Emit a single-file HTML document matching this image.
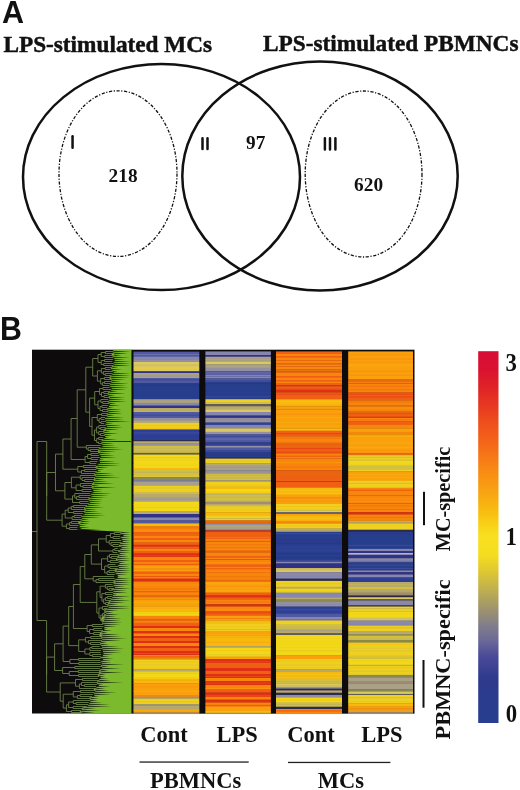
<!DOCTYPE html>
<html><head><meta charset="utf-8"><style>
html,body{margin:0;padding:0;background:#fff;}
body{width:520px;height:790px;overflow:hidden;position:relative;}
svg{position:absolute;left:0;top:0;will-change:transform;filter:blur(0.3px);}
.t{font-family:"Liberation Serif",serif;font-weight:bold;fill:#111;}
.h{stroke:#111;stroke-width:0.45px;}
.s{font-family:"Liberation Sans",sans-serif;font-weight:bold;fill:#111;}
</style></head><body>
<svg width="520" height="790" viewBox="0 0 520 790">
<text class="s" x="1.9" y="22.9" font-size="30.5">A</text>
<text class="t h" x="3.4" y="51.9" font-size="23.5" textLength="208.8" lengthAdjust="spacingAndGlyphs">LPS-stimulated MCs</text>
<text class="t h" x="263" y="51.2" font-size="23.5" textLength="255.5" lengthAdjust="spacingAndGlyphs">LPS-stimulated PBMNCs</text>
<g fill="none" stroke="#111">
<ellipse cx="161.5" cy="177" rx="138.5" ry="113" stroke-width="2.5"/>
<ellipse cx="320" cy="176" rx="137.7" ry="114.5" stroke-width="2.5"/>
<ellipse cx="118" cy="173.6" rx="59" ry="82.8" stroke-width="1.3" stroke-dasharray="3.2 1.6 1.2 1.6"/>
<ellipse cx="363.6" cy="174" rx="58.4" ry="83" stroke-width="1.3" stroke-dasharray="3.2 1.6 1.2 1.6"/>
</g>
<g stroke="#111" stroke-width="2.5" stroke-linecap="round">
<path d="M72.55 136.3V147.8"/>
<path d="M202.5 138.2V148.9M207.5 138.2V148.9"/>
<path d="M324.9 138.3V149.6M330 138.3V149.6M335.4 138.3V149.6"/>
</g>
<text class="t" x="108.6" y="181.5" font-size="19.3">218</text>
<text class="t" x="246" y="148.6" font-size="19.3">97</text>
<text class="t" x="354.1" y="191.1" font-size="19.3">620</text>
<text class="s" transform="translate(-0.1,339.6) scale(1,1.09)" font-size="30.3">B</text>
<rect x="32" y="349.7" width="99.5" height="363.8" fill="#0d0b0b"/>
<polygon points="131.5,349.7 112.6,349.7 114.3,351.7 111.2,353.7 112.4,355.7 113.0,357.7 115.3,359.7 113.6,361.7 114.5,363.7 112.3,365.7 110.9,367.7 110.8,369.7 114.1,371.7 112.7,373.7 110.5,375.7 108.8,377.7 111.0,379.7 111.7,381.7 110.2,383.7 109.2,385.7 111.1,387.7 112.2,389.7 108.5,391.7 107.3,393.7 108.6,395.7 108.8,397.7 109.9,399.7 107.2,401.7 109.9,403.7 109.3,405.7 107.9,407.7 106.1,409.7 109.6,411.7 106.0,413.7 108.2,415.7 105.0,417.7 104.7,419.7 107.1,421.7 104.6,423.7 107.7,425.7 105.2,427.7 103.5,429.7 103.3,431.7 103.8,433.7 104.7,435.7 105.7,437.7 101.3,439.7 102.0,441.7 100.6,443.7 103.9,445.7 99.2,447.7 98.2,449.7 97.7,451.7 98.8,453.7 100.9,455.7 100.4,457.7 99.2,459.7 100.1,461.7 99.4,463.7 96.0,465.7 94.9,467.7 98.2,469.7 97.0,471.7 93.1,473.7 96.0,475.7 94.2,477.7 93.9,479.7 93.4,481.7 92.3,483.7 91.2,485.7 92.2,487.7 92.3,489.7 94.6,491.7 89.6,493.7 93.0,495.7 88.5,497.7 88.4,499.7 89.9,501.7 89.1,503.7 86.4,505.7 83.7,507.7 85.0,509.7 83.7,511.7 85.6,513.7 81.2,515.7 81.2,517.7 83.0,519.7 77.9,521.7 79.0,523.7 80.1,525.7 79.1,527.7 83.9,529.7 120.4,531.7 120.2,533.7 124.0,535.7 120.3,537.7 122.3,539.7 122.7,541.7 119.5,543.7 118.8,545.7 121.9,547.7 120.0,549.7 117.9,551.7 119.9,553.7 117.7,555.7 117.2,557.7 115.6,559.7 119.0,561.7 119.5,563.7 117.8,565.7 119.1,567.7 114.2,569.7 114.9,571.7 115.8,573.7 117.9,575.7 117.6,577.7 114.5,579.7 113.3,581.7 113.7,583.7 113.5,585.7 115.2,587.7 111.0,589.7 113.6,591.7 112.8,593.7 112.7,595.7 111.9,597.7 110.6,599.7 108.5,601.7 107.8,603.7 107.3,605.7 108.7,607.7 104.5,609.7 104.4,611.7 106.5,613.7 103.2,615.7 101.6,617.7 100.8,619.7 103.1,621.7 101.8,623.7 104.8,625.7 104.1,627.7 104.5,629.7 100.7,631.7 99.6,633.7 99.4,635.7 101.2,637.7 102.1,639.7 100.8,641.7 99.9,643.7 101.0,645.7 102.1,647.7 102.5,649.7 103.0,651.7 103.6,653.7 102.8,655.7 99.9,657.7 103.4,659.7 100.5,661.7 101.8,663.7 100.7,665.7 102.3,667.7 99.5,669.7 99.3,671.7 98.7,673.7 97.7,675.7 100.9,677.7 98.8,679.7 97.0,681.7 96.8,683.7 99.1,685.7 95.8,687.7 93.5,689.7 95.4,691.7 93.7,693.7 94.5,695.7 89.1,697.7 90.0,699.7 90.3,701.7 89.0,703.7 87.8,705.7 82.0,707.7 81.8,709.7 79.4,711.7 84.0,713.5 131.5,713.5" fill="#7bba2c"/>
<path d="M112.6 350.70L130.5 351.50L112.6 352.30Z M113.7 352.70L127.7 353.50L113.7 354.30Z M113.5 354.70L121.5 355.50L113.5 356.30Z M112.1 356.70L129.3 357.50L112.1 358.30Z M111.9 358.70L125.1 359.50L111.9 360.30Z M111.2 360.70L130.5 361.50L111.2 362.30Z M112.7 362.70L130.5 363.50L112.7 364.30Z M112.5 364.70L130.5 365.50L112.5 366.30Z M111.4 366.70L118.3 367.50L111.4 368.30Z M109.4 368.70L122.1 369.50L109.4 370.30Z M111.9 370.70L117.9 371.50L111.9 372.30Z M111.5 372.70L130.5 373.50L111.5 374.30Z M110.5 374.70L130.5 375.50L110.5 376.30Z M110.3 376.70L129.3 377.50L110.3 378.30Z M111.1 378.70L125.1 379.50L111.1 380.30Z M110.9 380.70L120.9 381.50L110.9 382.30Z M109.5 382.70L128.7 383.50L109.5 384.30Z M108.3 384.70L126.5 385.50L108.3 386.30Z M108.5 386.70L128.3 387.50L108.5 388.30Z M110.1 388.70L126.1 389.50L110.1 390.30Z M109.1 390.70L117.9 391.50L109.1 392.30Z M107.8 392.70L125.7 393.50L107.8 394.30Z M106.7 394.70L115.5 395.50L106.7 396.30Z M108.9 396.70L125.3 397.50L108.9 398.30Z M107.1 398.70L125.1 399.50L107.1 400.30Z M107.9 400.70L126.8 401.50L107.9 402.30Z M108.5 402.70L116.5 403.50L108.5 404.30Z M107.0 404.70L120.2 405.50L107.0 406.30Z M106.1 406.70L114.0 407.50L106.1 408.30Z M107.1 408.70L121.7 409.50L107.1 410.30Z M107.3 410.70L121.3 411.50L107.3 412.30Z M106.9 412.70L123.0 413.50L106.9 414.30Z M106.8 414.70L114.8 415.50L106.8 416.30Z M104.0 416.70L124.5 417.50L104.0 418.30Z M103.3 418.70L124.2 419.50L103.3 420.30Z M105.1 420.70L130.5 421.50L105.1 422.30Z M103.2 422.70L113.7 423.50L103.2 424.30Z M104.9 424.70L121.5 425.50L104.9 426.30Z M104.5 426.70L123.3 427.50L104.5 428.30Z M105.1 428.70L119.1 429.50L105.1 430.30Z M103.5 430.70L110.8 431.50L103.5 432.30Z M102.9 432.70L118.4 433.50L102.9 434.30Z M104.0 434.70L112.0 435.50L104.0 436.30Z M102.2 436.70L109.6 437.50L102.2 438.30Z M102.3 438.70L117.2 439.50L102.3 440.30Z M99.8 440.70L112.7 441.50L99.8 442.30Z M101.3 442.70L114.2 443.50L101.3 444.30Z M99.7 444.70L115.7 445.50L99.7 446.30Z M99.4 446.70L119.1 447.50L99.4 448.30Z M97.8 448.70L123.6 449.50L97.8 450.30Z M99.6 450.70L116.1 451.50L99.6 452.30Z M97.2 452.70L111.5 453.50L97.2 454.30Z M97.9 454.70L115.0 455.50L97.9 456.30Z M98.6 456.70L116.6 457.50L98.6 458.30Z M97.0 458.70L104.2 459.50L97.0 460.30Z M96.3 460.70L115.8 461.50L96.3 462.30Z M95.2 462.70L120.4 463.50L95.2 464.30Z M94.8 464.70L120.0 465.50L94.8 466.30Z M96.6 466.70L108.6 467.50L96.6 468.30Z M95.3 468.70L104.2 469.50L95.3 470.30Z M95.8 470.70L101.8 471.50L95.8 472.30Z M94.1 472.70L113.5 473.50L94.1 474.30Z M95.2 474.70L115.2 475.50L95.2 476.30Z M94.0 476.70L121.0 477.50L94.0 478.30Z M94.7 478.70L104.7 479.50L94.7 480.30Z M91.7 480.70L108.3 481.50L91.7 482.30Z M93.5 482.70L114.0 483.50L93.5 484.30Z M91.2 484.70L99.8 485.50L91.2 486.30Z M92.7 486.70L116.5 487.50L92.7 488.30Z M90.4 488.70L103.2 489.50L90.4 490.30Z M90.7 490.70L102.6 491.50L90.7 492.30Z M88.8 492.70L111.8 493.50L88.8 494.30Z M89.6 494.70L109.0 495.50L89.6 496.30Z M88.8 496.70L106.2 497.50L88.8 498.30Z M88.5 498.70L103.4 499.50L88.5 500.30Z M87.4 500.70L102.6 501.50L87.4 502.30Z M87.8 502.70L101.8 503.50L87.8 504.30Z M86.0 504.70L101.0 505.50L86.0 506.30Z M84.1 506.70L104.2 507.50L84.1 508.30Z M85.1 508.70L97.4 509.50L85.1 510.30Z M84.6 510.70L98.6 511.50L84.6 512.30Z M81.8 512.70L103.8 513.50L81.8 514.30Z M80.7 514.70L106.0 515.50L80.7 516.30Z M79.7 516.70L100.2 517.50L79.7 518.30Z M81.3 518.70L89.3 519.50L81.3 520.30Z M80.5 520.70L90.5 521.50L80.5 522.30Z M79.7 522.70L89.7 523.50L79.7 524.30Z M77.4 524.70L86.9 525.50L77.4 526.30Z M76.3 526.70L90.0 527.50L76.3 528.30Z M76.1 528.70L100.2 529.50L76.1 530.30Z M120.2 531.70L130.5 532.50L120.2 533.30Z M119.5 533.70L130.5 534.50L119.5 535.30Z M119.1 535.70L130.5 536.50L119.1 537.30Z M119.1 537.70L130.5 538.50L119.1 539.30Z M120.3 539.70L130.5 540.50L120.3 541.30Z M120.6 541.70L130.5 542.50L120.6 543.30Z M117.6 543.70L130.5 544.50L117.6 545.30Z M119.9 545.70L129.9 546.50L119.9 547.30Z M116.7 547.70L130.5 548.50L116.7 549.30Z M119.3 549.70L130.5 550.50L119.3 551.30Z M116.3 551.70L130.5 552.50L116.3 553.30Z M117.7 553.70L126.8 554.50L117.7 555.30Z M118.3 555.70L128.5 556.50L118.3 557.30Z M116.4 557.70L130.5 558.50L116.4 559.30Z M117.2 559.70L130.5 560.50L117.2 561.30Z M117.7 561.70L125.7 562.50L117.7 563.30Z M114.5 563.70L130.5 564.50L114.5 565.30Z M117.1 565.70L129.1 566.50L117.1 567.30Z M116.7 567.70L130.5 568.50L116.7 569.30Z M115.8 569.70L130.5 570.50L115.8 571.30Z M113.6 571.70L130.5 572.50L113.6 573.30Z M113.6 573.70L127.9 574.50L113.6 575.30Z M112.9 575.70L121.6 576.50L112.9 577.30Z M113.5 577.70L130.5 578.50L113.5 579.30Z M114.3 579.70L130.5 580.50L114.3 581.30Z M114.5 581.70L130.5 582.50L114.5 583.30Z M111.5 583.70L130.5 584.50L111.5 585.30Z M112.3 585.70L125.5 586.50L112.3 587.30Z M113.0 587.70L130.5 588.50L113.0 589.30Z M111.4 589.70L126.5 590.50L111.4 591.30Z M112.0 591.70L128.0 592.50L112.0 593.30Z M111.3 593.70L117.5 594.50L111.3 595.30Z M111.0 595.70L130.5 596.50L111.0 597.30Z M110.5 597.70L124.5 598.50L110.5 599.30Z M110.0 599.70L130.5 600.50L110.0 601.30Z M109.3 601.70L125.3 602.50L109.3 603.30Z M107.7 603.70L118.6 604.50L107.7 605.30Z M106.9 605.70L130.5 606.50L106.9 607.30Z M106.2 607.70L130.2 608.50L106.2 609.30Z M104.7 609.70L118.5 610.50L104.7 611.30Z M105.4 611.70L113.8 612.50L105.4 613.30Z M105.1 613.70L119.1 614.50L105.1 615.30Z M104.4 615.70L116.4 616.50L104.4 617.30Z M103.8 617.70L121.7 618.50L103.8 619.30Z M103.8 619.70L121.0 620.50L103.8 621.30Z M102.3 621.70L122.8 622.50L102.3 623.30Z M101.8 623.70L120.6 624.50L101.8 625.30Z M102.4 625.70L116.4 626.50L102.4 627.30Z M101.0 627.70L108.2 628.50L101.0 629.30Z M102.0 629.70L112.0 630.50L102.0 631.30Z M101.4 631.70L107.8 632.50L101.4 633.30Z M101.6 633.70L119.6 634.50L101.6 635.30Z M101.3 635.70L121.4 636.50L101.3 637.30Z M101.2 637.70L127.2 638.50L101.2 639.30Z M101.0 639.70L121.0 640.50L101.0 641.30Z M99.8 641.70L107.1 642.50L99.8 643.30Z M100.1 643.70L109.3 644.50L100.1 645.30Z M98.5 645.70L119.4 646.50L98.5 647.30Z M101.5 647.70L124.5 648.50L101.5 649.30Z M99.8 649.70L121.7 650.50L99.8 651.30Z M99.5 651.70L121.8 652.50L99.5 653.30Z M100.0 653.70L113.9 654.50L100.0 655.30Z M99.7 655.70L109.9 656.50L99.7 657.30Z M99.6 657.70L113.8 658.50L99.6 659.30Z M99.4 659.70L111.7 660.50L99.4 661.30Z M99.8 661.70L111.5 662.50L99.8 663.30Z M99.6 663.70L124.4 664.50L99.6 665.30Z M101.3 665.70L109.3 666.50L101.3 667.30Z M98.8 667.70L121.1 668.50L98.8 669.30Z M100.0 669.70L109.0 670.50L100.0 671.30Z M100.5 671.70L123.5 672.50L100.5 673.30Z M98.9 673.70L105.9 674.50L98.9 675.30Z M98.3 675.70L105.4 676.50L98.3 677.30Z M96.9 677.70L108.9 678.50L96.9 679.30Z M98.3 679.70L110.3 680.50L98.3 681.30Z M96.9 681.70L123.8 682.50L96.9 683.30Z M95.8 683.70L103.3 684.50L95.8 685.30Z M95.0 685.70L110.5 686.50L95.0 687.30Z M95.6 687.70L105.6 688.50L95.6 689.30Z M94.7 689.70L108.7 690.50L94.7 691.30Z M93.7 691.70L116.7 692.50L93.7 693.30Z M91.7 693.70L110.8 694.50L91.7 695.30Z M91.0 695.70L99.9 696.50L91.0 697.30Z M90.1 697.70L98.9 698.50L90.1 699.30Z M89.2 699.70L98.0 700.50L89.2 701.30Z M87.7 701.70L102.5 702.50L87.7 703.30Z M87.0 703.70L110.0 704.50L87.0 705.30Z M85.6 705.70L111.6 706.50L85.6 707.30Z M82.7 707.70L96.1 708.50L82.7 709.30Z M79.8 709.70L100.6 710.50L79.8 711.30Z M81.1 711.70L95.1 712.50L81.1 713.30Z" fill="#1c2a12" opacity="0.9"/>
<path d="M105.4 351.5V353.5 M101.2 352.5H105.4 M104.7 355.5V357.5 M101.2 356.5H104.7 M101.2 352.5V356.5 M98.0 354.5H101.2 M104.5 359.5V361.5 M101.2 360.5H104.5 M103.7 363.5V365.5 M101.2 364.5H103.7 M101.2 360.5V364.5 M98.0 362.5H101.2 M98.0 354.5V362.5 M92.7 358.5H98.0 M105.1 367.5V369.5 M101.4 368.5H105.1 M105.2 373.5V375.5 M103.4 374.5H105.2 M103.4 371.5V374.5 M101.4 373.0H103.4 M101.4 368.5V373.0 M97.4 370.8H101.4 M104.4 377.5V379.5 M100.7 378.5H104.4 M104.4 381.5V383.5 M102.6 382.5H104.4 M102.6 382.5V385.5 M100.7 384.0H102.6 M100.7 378.5V384.0 M97.4 381.2H100.7 M97.4 370.8V381.2 M92.7 376.0H97.4 M92.7 358.5V376.0 M85.8 367.2H92.7 M102.9 387.5V389.5 M99.6 388.5H102.9 M103.8 391.5V393.5 M101.5 392.5H103.8 M104.0 395.5V397.5 M101.5 396.5H104.0 M101.5 392.5V396.5 M99.6 394.5H101.5 M99.6 388.5V394.5 M94.7 391.5H99.6 M102.7 401.5V403.5 M100.9 402.5H102.7 M100.9 399.5V402.5 M98.0 401.0H100.9 M101.8 405.5V407.5 M100.0 406.5H101.8 M102.5 409.5V411.5 M100.0 410.5H102.5 M100.0 406.5V410.5 M98.0 408.5H100.0 M98.0 401.0V408.5 M94.7 404.8H98.0 M94.7 391.5V404.8 M89.6 398.1H94.7 M101.5 413.5V415.5 M97.3 414.5H101.5 M100.9 417.5V419.5 M99.1 418.5H100.9 M101.0 421.5V423.5 M99.1 422.5H101.0 M99.1 418.5V422.5 M97.3 420.5H99.1 M97.3 414.5V420.5 M92.0 417.5H97.3 M100.6 427.5V429.5 M98.8 428.5H100.6 M98.8 425.5V428.5 M96.6 427.0H98.8 M100.5 433.5V435.5 M98.7 434.5H100.5 M98.7 431.5V434.5 M96.6 433.0H98.7 M96.6 427.0V433.0 M94.5 430.0H96.6 M98.6 437.5V439.5 M96.7 438.5H98.6 M98.5 441.5V443.5 M96.7 442.5H98.5 M96.7 438.5V442.5 M94.5 440.5H96.7 M94.5 430.0V440.5 M92.0 435.2H94.5 M92.0 417.5V435.2 M89.6 426.4H92.0 M89.6 398.1V426.4 M85.8 412.2H89.6 M85.8 367.2V412.2 M90.3 449.5V451.5 M88.2 450.5H90.3 M88.2 447.5V450.5 M86.3 449.0H88.2 M86.3 445.5V449.0 M77.2 389.8H85.8 M77.2 447.2H86.3 M77.2 389.8V447.2 M90.9 453.5V455.5 M87.6 454.5H90.9 M91.1 457.5V459.5 M87.6 458.5H91.1 M87.6 454.5V458.5 M85.1 456.5H87.6 M89.8 461.5V463.5 M85.1 462.5H89.8 M85.1 456.5V462.5 M71.1 418.5H77.2 M71.1 459.5H85.1 M71.1 418.5V459.5 M83.3 465.5V467.5 M77.8 466.5H83.3 M84.6 469.5V471.5 M81.5 470.5H84.6 M81.5 470.5V473.5 M77.8 472.0H81.5 M77.8 466.5V472.0 M62.9 439.0H71.1 M62.9 469.2H77.8 M62.9 439.0V469.2 M84.6 479.5V481.5 M82.0 480.5H84.6 M82.0 477.5V480.5 M80.2 479.0H82.0 M80.2 475.5V479.0 M71.4 477.2H80.2 M82.9 485.5V487.5 M80.4 486.5H82.9 M80.4 483.5V486.5 M76.1 485.0H80.4 M82.0 489.5V491.5 M76.1 490.5H82.0 M76.1 485.0V490.5 M71.4 487.8H76.1 M71.4 477.2V487.8 M64.9 482.5H71.4 M78.9 495.5V497.5 M76.6 496.5H78.9 M76.6 496.5V499.5 M74.8 498.0H76.6 M74.8 493.5V498.0 M72.5 495.8H74.8 M79.7 501.5V503.5 M72.5 502.5H79.7 M72.5 495.8V502.5 M64.9 499.1H72.5 M64.9 482.5V499.1 M55.5 454.1H62.9 M55.5 490.8H64.9 M55.5 454.1V490.8 M73.3 505.5V507.5 M71.3 506.5H73.3 M71.3 506.5V509.5 M68.2 508.0H71.3 M73.6 511.5V513.5 M68.2 512.5H73.6 M68.2 508.0V512.5 M65.2 510.2H68.2 M74.1 515.5V517.5 M72.1 516.5H74.1 M72.1 516.5V519.5 M65.2 518.0H72.1 M65.2 510.2V518.0 M62.1 514.1H65.2 M71.4 521.5V523.5 M69.6 522.5H71.4 M69.6 522.5V525.5 M66.4 524.0H69.6 M69.4 527.5V529.5 M66.4 528.5H69.4 M66.4 524.0V528.5 M62.1 526.2H66.4 M62.1 514.1V526.2 M46.7 472.5H55.5 M46.7 520.2H62.1 M46.7 472.5V520.2 M114.3 532.5V534.5 M110.4 533.5H114.3 M113.0 536.5V538.5 M110.4 537.5H113.0 M110.4 533.5V537.5 M106.2 535.5H110.4 M112.8 544.5V546.5 M111.0 545.5H112.8 M111.0 542.5V545.5 M109.2 544.0H111.0 M109.2 540.5V544.0 M106.2 542.2H109.2 M106.2 535.5V542.2 M114.7 548.5V550.5 M112.9 549.5H114.7 M112.9 549.5V552.5 M98.5 538.9H106.2 M98.5 551.0H112.9 M98.5 538.9V551.0 M111.3 556.5V558.5 M109.5 557.5H111.3 M109.5 554.5V557.5 M107.6 556.0H109.5 M110.2 560.5V562.5 M107.6 561.5H110.2 M107.6 556.0V561.5 M101.5 558.8H107.6 M109.8 566.5V568.5 M108.0 567.5H109.8 M108.0 564.5V567.5 M104.7 566.0H108.0 M108.9 570.5V572.5 M107.1 571.5H108.9 M107.1 571.5V574.5 M104.7 573.0H107.1 M104.7 566.0V573.0 M101.5 569.5H104.7 M101.5 558.8V569.5 M91.3 544.9H98.5 M91.3 564.1H101.5 M91.3 544.9V564.1 M98.6 578.5V580.5 M96.0 579.5H98.6 M96.0 579.5V582.5 M93.2 581.0H96.0 M93.2 576.5V581.0 M84.8 554.5H91.3 M84.8 578.8H93.2 M84.8 554.5V578.8 M109.0 588.5V590.5 M107.2 589.5H109.0 M107.2 586.5V589.5 M105.4 588.0H107.2 M105.4 584.5V588.0 M100.1 586.2H105.4 M105.3 592.5V594.5 M101.9 593.5H105.3 M107.3 596.5V598.5 M105.5 597.5H107.3 M105.5 597.5V600.5 M103.7 599.0H105.5 M105.5 602.5V604.5 M103.7 603.5H105.5 M103.7 599.0V603.5 M101.9 601.2H103.7 M101.9 593.5V601.2 M100.1 597.4H101.9 M100.1 586.2V597.4 M96.8 591.8H100.1 M104.2 608.5V610.5 M102.4 609.5H104.2 M102.4 606.5V609.5 M99.0 608.0H102.4 M104.1 612.5V614.5 M102.6 613.5H104.1 M102.6 613.5V616.5 M100.8 615.0H102.6 M103.8 618.5V620.5 M102.3 619.5H103.8 M102.3 619.5V622.5 M100.8 621.0H102.3 M100.8 615.0V621.0 M99.0 618.0H100.8 M99.0 608.0V618.0 M96.8 613.0H99.0 M96.8 591.8V613.0 M80.2 566.6H84.8 M80.2 602.4H96.8 M80.2 566.6V602.4 M92.3 624.5V626.5 M87.1 625.5H92.3 M93.7 628.5V630.5 M89.6 629.5H93.7 M93.6 632.5V634.5 M89.6 633.5H93.6 M89.6 629.5V633.5 M87.1 631.5H89.6 M87.1 625.5V631.5 M73.4 584.5H80.2 M73.4 628.5H87.1 M73.4 584.5V628.5 M90.8 636.5V638.5 M85.4 637.5H90.8 M90.5 642.5V644.5 M88.5 643.5H90.5 M88.5 640.5V643.5 M85.4 642.0H88.5 M85.4 637.5V642.0 M78.7 639.8H85.4 M91.8 646.5V648.5 M89.9 647.5H91.8 M89.9 647.5V650.5 M84.9 649.0H89.9 M92.3 654.5V656.5 M89.8 655.5H92.3 M89.8 652.5V655.5 M84.9 654.0H89.8 M84.9 649.0V654.0 M78.7 651.5H84.9 M78.7 639.8V651.5 M68.7 606.5H73.4 M68.7 645.6H78.7 M68.7 606.5V645.6 M78.6 658.5V660.5 M69.9 659.5H78.6 M78.8 662.5V664.5 M69.9 663.5H78.8 M69.9 659.5V663.5 M63.1 626.1H68.7 M63.1 661.5H69.9 M63.1 626.1V661.5 M74.8 666.5V668.5 M62.6 667.5H74.8 M78.2 670.5V672.5 M69.2 671.5H78.2 M78.6 674.5V676.5 M69.2 675.5H78.6 M69.2 671.5V675.5 M62.6 673.5H69.2 M62.6 667.5V673.5 M54.6 643.8H63.1 M54.6 670.5H62.6 M54.6 643.8V670.5 M82.4 678.5V680.5 M75.5 679.5H82.4 M84.4 684.5V686.5 M81.5 685.5H84.4 M81.5 682.5V685.5 M79.4 684.0H81.5 M79.4 684.0V688.5 M75.5 686.2H79.4 M75.5 679.5V686.2 M60.2 682.9H75.5 M80.5 690.5V692.5 M73.3 691.5H80.5 M80.1 694.5V696.5 M77.4 695.5H80.1 M77.4 695.5V698.5 M73.3 697.0H77.4 M73.3 691.5V697.0 M63.2 694.2H73.3 M76.1 702.5V704.5 M73.3 703.5H76.1 M73.3 700.5V703.5 M68.6 702.0H73.3 M73.1 706.5V708.5 M68.6 707.5H73.1 M68.6 702.0V707.5 M66.4 704.8H68.6 M71.5 710.5V712.5 M66.4 711.5H71.5 M66.4 704.8V711.5 M63.2 708.1H66.4 M63.2 694.2V708.1 M60.2 701.2H63.2 M60.2 682.9V701.2 M46.6 657.1H54.6 M46.6 692.0H60.2 M46.6 657.1V692.0 M37 441.5V620.5M37 441.5H46.7V496.3M37 620.5H46.6V674.6M32 531.5H37 M105.4 351.5H113.6 M105.4 353.5H114.7 M104.7 355.5H114.5 M104.7 357.5H113.1 M104.5 359.5H112.9 M104.5 361.5H112.2 M103.7 363.5H113.7 M103.7 365.5H113.5 M105.1 367.5H112.4 M105.1 369.5H110.4 M103.4 371.5H112.9 M105.2 373.5H112.5 M105.2 375.5H111.5 M104.4 377.5H111.3 M104.4 379.5H112.1 M104.4 381.5H111.9 M104.4 383.5H110.5 M102.6 385.5H109.3 M102.9 387.5H109.5 M102.9 389.5H111.1 M103.8 391.5H110.1 M103.8 393.5H108.8 M104.0 395.5H107.7 M104.0 397.5H109.9 M100.9 399.5H108.1 M102.7 401.5H108.9 M102.7 403.5H109.5 M101.8 405.5H108.0 M101.8 407.5H107.1 M102.5 409.5H108.1 M102.5 411.5H108.3 M101.5 413.5H107.9 M101.5 415.5H107.8 M100.9 417.5H105.0 M100.9 419.5H104.3 M101.0 421.5H106.1 M101.0 423.5H104.2 M98.8 425.5H105.9 M100.6 427.5H105.5 M100.6 429.5H106.1 M98.7 431.5H104.5 M100.5 433.5H103.9 M100.5 435.5H105.0 M98.6 437.5H103.2 M98.6 439.5H103.3 M98.5 441.5H100.8 M98.5 443.5H102.3 M86.3 445.5H100.7 M88.2 447.5H100.4 M90.3 449.5H98.8 M90.3 451.5H100.6 M90.9 453.5H98.2 M90.9 455.5H98.9 M91.1 457.5H99.6 M91.1 459.5H98.0 M89.8 461.5H97.3 M89.8 463.5H96.2 M83.3 465.5H95.8 M83.3 467.5H97.6 M84.6 469.5H96.3 M84.6 471.5H96.8 M81.5 473.5H95.1 M80.2 475.5H96.2 M82.0 477.5H95.0 M84.6 479.5H95.7 M84.6 481.5H92.7 M80.4 483.5H94.5 M82.9 485.5H92.2 M82.9 487.5H93.7 M82.0 489.5H91.4 M82.0 491.5H91.7 M74.8 493.5H89.8 M78.9 495.5H90.6 M78.9 497.5H89.8 M76.6 499.5H89.5 M79.7 501.5H88.4 M79.7 503.5H88.8 M73.3 505.5H87.0 M73.3 507.5H85.1 M71.3 509.5H86.1 M73.6 511.5H85.6 M73.6 513.5H82.8 M74.1 515.5H81.7 M74.1 517.5H80.7 M72.1 519.5H82.3 M71.4 521.5H81.5 M71.4 523.5H80.7 M69.6 525.5H78.4 M69.4 527.5H77.3 M69.4 529.5H77.1 M114.3 532.5H121.2 M114.3 534.5H120.5 M113.0 536.5H120.1 M113.0 538.5H120.1 M109.2 540.5H121.3 M111.0 542.5H121.6 M112.8 544.5H118.6 M112.8 546.5H120.9 M114.7 548.5H117.7 M114.7 550.5H120.3 M112.9 552.5H117.3 M109.5 554.5H118.7 M111.3 556.5H119.3 M111.3 558.5H117.4 M110.2 560.5H118.2 M110.2 562.5H118.7 M108.0 564.5H115.5 M109.8 566.5H118.1 M109.8 568.5H117.7 M108.9 570.5H116.8 M108.9 572.5H114.6 M107.1 574.5H114.6 M93.2 576.5H113.9 M98.6 578.5H114.5 M98.6 580.5H115.3 M96.0 582.5H115.5 M105.4 584.5H112.5 M107.2 586.5H113.3 M109.0 588.5H114.0 M109.0 590.5H112.4 M105.3 592.5H113.0 M105.3 594.5H112.3 M107.3 596.5H112.0 M107.3 598.5H111.5 M105.5 600.5H111.0 M105.5 602.5H110.3 M105.5 604.5H108.7 M102.4 606.5H107.9 M104.2 608.5H107.2 M104.2 610.5H105.7 M104.1 612.5H106.4 M104.1 614.5H106.1 M102.6 616.5H105.4 M103.8 618.5H104.7 M92.3 624.5H102.8 M92.3 626.5H103.4 M93.7 628.5H102.0 M93.7 630.5H103.0 M93.6 632.5H102.4 M93.6 634.5H102.6 M90.8 636.5H102.3 M90.8 638.5H102.2 M88.5 640.5H102.0 M90.5 642.5H100.8 M90.5 644.5H101.1 M91.8 646.5H99.5 M91.8 648.5H102.5 M89.9 650.5H100.8 M89.8 652.5H100.5 M92.3 654.5H101.0 M92.3 656.5H100.7 M78.6 658.5H100.6 M78.6 660.5H100.4 M78.8 662.5H100.8 M78.8 664.5H100.6 M74.8 666.5H102.3 M74.8 668.5H99.8 M78.2 670.5H101.0 M78.2 672.5H101.5 M78.6 674.5H99.9 M78.6 676.5H99.3 M82.4 678.5H97.9 M82.4 680.5H99.3 M81.5 682.5H97.9 M84.4 684.5H96.8 M84.4 686.5H96.0 M79.4 688.5H96.6 M80.5 690.5H95.7 M80.5 692.5H94.7 M80.1 694.5H92.7 M80.1 696.5H92.0 M77.4 698.5H91.1 M73.3 700.5H90.2 M76.1 702.5H88.7 M76.1 704.5H88.0 M73.1 706.5H86.6 M73.1 708.5H83.7 M71.5 710.5H80.8 M71.5 712.5H82.1" stroke="#6c8249" stroke-width="0.9" fill="none"/>
<path d="M98 441.5H131" stroke="#24331a" stroke-width="1.1"/>
<rect x="131.5" y="349.7" width="283" height="364" fill="#0d0b0b"/>
<rect x="133.5" y="351.00" width="65.80" height="1.35" fill="#2a2a3a"/>
<rect x="133.5" y="352.00" width="65.80" height="5.05" fill="#5058a2"/>
<rect x="133.5" y="353.90" width="65.80" height="1" fill="#8686b0" opacity="0.55"/>
<rect x="133.5" y="356.70" width="65.80" height="3.25" fill="#8686b0"/>
<rect x="133.5" y="359.60" width="65.80" height="2.75" fill="#9490a0"/>
<rect x="133.5" y="362.00" width="65.80" height="9.65" fill="#dcc860"/>
<rect x="133.5" y="364.71" width="65.80" height="1" fill="#b8aa6c" opacity="0.55"/>
<rect x="133.5" y="367.67" width="65.80" height="1" fill="#eed020" opacity="0.55"/>
<rect x="133.5" y="371.30" width="65.80" height="2.05" fill="#303284"/>
<rect x="133.5" y="373.00" width="65.80" height="5.35" fill="#a8a088"/>
<rect x="133.5" y="375.59" width="65.80" height="1" fill="#9490a0" opacity="0.55"/>
<rect x="133.5" y="378.00" width="65.80" height="5.35" fill="#5058a2"/>
<rect x="133.5" y="379.28" width="65.80" height="1" fill="#263e8c" opacity="0.55"/>
<rect x="133.5" y="383.00" width="65.80" height="16.55" fill="#263e8c"/>
<rect x="133.5" y="384.79" width="65.80" height="1" fill="#303284" opacity="0.55"/>
<rect x="133.5" y="388.93" width="65.80" height="1" fill="#2e4096" opacity="0.55"/>
<rect x="133.5" y="393.05" width="65.80" height="1" fill="#2e4096" opacity="0.55"/>
<rect x="133.5" y="395.59" width="65.80" height="1" fill="#2e4096" opacity="0.55"/>
<rect x="133.5" y="399.20" width="65.80" height="3.85" fill="#b8aa6c"/>
<rect x="133.5" y="400.27" width="65.80" height="1" fill="#9490a0" opacity="0.55"/>
<rect x="133.5" y="402.70" width="65.80" height="3.25" fill="#8686b0"/>
<rect x="133.5" y="405.60" width="65.80" height="2.75" fill="#303284"/>
<rect x="133.5" y="408.00" width="65.80" height="4.35" fill="#b8aa6c"/>
<rect x="133.5" y="410.56" width="65.80" height="1" fill="#d2c040" opacity="0.55"/>
<rect x="133.5" y="412.00" width="65.80" height="6.35" fill="#5058a2"/>
<rect x="133.5" y="414.68" width="65.80" height="1" fill="#263e8c" opacity="0.55"/>
<rect x="133.5" y="418.00" width="65.80" height="3.15" fill="#9490a0"/>
<rect x="133.5" y="420.80" width="65.80" height="2.55" fill="#b8aa6c"/>
<rect x="133.5" y="423.00" width="65.80" height="6.85" fill="#eed020"/>
<rect x="133.5" y="425.00" width="65.80" height="1" fill="#f8b80e" opacity="0.55"/>
<rect x="133.5" y="427.71" width="65.80" height="1" fill="#f8b80e" opacity="0.55"/>
<rect x="133.5" y="429.50" width="65.80" height="10.85" fill="#2e4096"/>
<rect x="133.5" y="432.50" width="65.80" height="1" fill="#5058a2" opacity="0.55"/>
<rect x="133.5" y="436.76" width="65.80" height="1" fill="#263e8c" opacity="0.55"/>
<rect x="133.5" y="440.00" width="65.80" height="1.55" fill="#2c2c50"/>
<rect x="133.5" y="441.20" width="65.80" height="2.65" fill="#b8aa6c"/>
<rect x="133.5" y="443.50" width="65.80" height="2.65" fill="#9490a0"/>
<rect x="133.5" y="445.80" width="65.80" height="7.35" fill="#d2c040"/>
<rect x="133.5" y="447.83" width="65.80" height="1" fill="#b8aa6c" opacity="0.55"/>
<rect x="133.5" y="450.50" width="65.80" height="1" fill="#b8aa6c" opacity="0.55"/>
<rect x="133.5" y="452.80" width="65.80" height="2.15" fill="#605c58"/>
<rect x="133.5" y="454.60" width="65.80" height="13.75" fill="#f2d816"/>
<rect x="133.5" y="457.29" width="65.80" height="1" fill="#d2c040" opacity="0.55"/>
<rect x="133.5" y="459.96" width="65.80" height="1" fill="#eed020" opacity="0.55"/>
<rect x="133.5" y="464.58" width="65.80" height="1" fill="#eed020" opacity="0.55"/>
<rect x="133.5" y="468.00" width="65.80" height="1.35" fill="#f8b80e"/>
<rect x="133.5" y="469.00" width="65.80" height="8.65" fill="#d2c040"/>
<rect x="133.5" y="471.85" width="65.80" height="1" fill="#b8aa6c" opacity="0.55"/>
<rect x="133.5" y="475.53" width="65.80" height="1" fill="#eed020" opacity="0.55"/>
<rect x="133.5" y="477.30" width="65.80" height="3.25" fill="#8a8a50"/>
<rect x="133.5" y="480.20" width="65.80" height="2.15" fill="#8686b0"/>
<rect x="133.5" y="482.00" width="65.80" height="3.75" fill="#a8a088"/>
<rect x="133.5" y="485.40" width="65.80" height="8.55" fill="#eed020"/>
<rect x="133.5" y="487.53" width="65.80" height="1" fill="#d2c040" opacity="0.55"/>
<rect x="133.5" y="491.98" width="65.80" height="1" fill="#b8aa6c" opacity="0.55"/>
<rect x="133.5" y="493.60" width="65.80" height="3.75" fill="#b8aa6c"/>
<rect x="133.5" y="497.00" width="65.80" height="5.05" fill="#a8a088"/>
<rect x="133.5" y="498.62" width="65.80" height="1" fill="#9490a0" opacity="0.55"/>
<rect x="133.5" y="501.70" width="65.80" height="9.65" fill="#f2d816"/>
<rect x="133.5" y="504.22" width="65.80" height="1" fill="#eed020" opacity="0.55"/>
<rect x="133.5" y="507.05" width="65.80" height="1" fill="#f8b80e" opacity="0.55"/>
<rect x="133.5" y="511.00" width="65.80" height="3.35" fill="#b8aa6c"/>
<rect x="133.5" y="514.00" width="65.80" height="3.75" fill="#303284"/>
<rect x="133.5" y="517.40" width="65.80" height="3.25" fill="#8686b0"/>
<rect x="133.5" y="520.30" width="65.80" height="3.35" fill="#5058a2"/>
<rect x="133.5" y="523.30" width="65.80" height="3.25" fill="#f8b80e"/>
<rect x="133.5" y="526.20" width="65.80" height="6.15" fill="#f9860c"/>
<rect x="133.5" y="527.32" width="65.80" height="1" fill="#f05f14" opacity="0.55"/>
<rect x="133.5" y="530.26" width="65.80" height="1" fill="#f9a00c" opacity="0.55"/>
<rect x="133.5" y="532.00" width="65.80" height="3.85" fill="#f05f14"/>
<rect x="133.5" y="534.02" width="65.80" height="1" fill="#e86a10" opacity="0.55"/>
<rect x="133.5" y="535.50" width="65.80" height="2.85" fill="#f9860c"/>
<rect x="133.5" y="538.00" width="65.80" height="2.35" fill="#f05f14"/>
<rect x="133.5" y="540.00" width="65.80" height="2.85" fill="#f9860c"/>
<rect x="133.5" y="542.50" width="65.80" height="2.65" fill="#f05f14"/>
<rect x="133.5" y="544.80" width="65.80" height="2.15" fill="#de3014"/>
<rect x="133.5" y="546.60" width="65.80" height="2.75" fill="#f05f14"/>
<rect x="133.5" y="549.00" width="65.80" height="2.35" fill="#f9860c"/>
<rect x="133.5" y="551.00" width="65.80" height="2.85" fill="#f05f14"/>
<rect x="133.5" y="553.50" width="65.80" height="3.85" fill="#de3014"/>
<rect x="133.5" y="555.34" width="65.80" height="1" fill="#f05f14" opacity="0.55"/>
<rect x="133.5" y="557.00" width="65.80" height="3.35" fill="#f9860c"/>
<rect x="133.5" y="560.00" width="65.80" height="2.35" fill="#f05f14"/>
<rect x="133.5" y="562.00" width="65.80" height="4.15" fill="#f9860c"/>
<rect x="133.5" y="563.84" width="65.80" height="1" fill="#de3014" opacity="0.55"/>
<rect x="133.5" y="565.80" width="65.80" height="6.15" fill="#f9a00c"/>
<rect x="133.5" y="568.53" width="65.80" height="1" fill="#e86a10" opacity="0.55"/>
<rect x="133.5" y="571.60" width="65.80" height="2.05" fill="#f05f14"/>
<rect x="133.5" y="573.30" width="65.80" height="5.65" fill="#f9860c"/>
<rect x="133.5" y="576.07" width="65.80" height="1" fill="#de3014" opacity="0.55"/>
<rect x="133.5" y="578.60" width="65.80" height="3.25" fill="#de3014"/>
<rect x="133.5" y="581.50" width="65.80" height="13.75" fill="#f9860c"/>
<rect x="133.5" y="584.49" width="65.80" height="1" fill="#f9a00c" opacity="0.55"/>
<rect x="133.5" y="588.60" width="65.80" height="1" fill="#f05f14" opacity="0.55"/>
<rect x="133.5" y="591.20" width="65.80" height="1" fill="#de3014" opacity="0.55"/>
<rect x="133.5" y="594.90" width="65.80" height="2.65" fill="#e86a10"/>
<rect x="133.5" y="597.20" width="65.80" height="9.65" fill="#f9a00c"/>
<rect x="133.5" y="598.72" width="65.80" height="1" fill="#e86a10" opacity="0.55"/>
<rect x="133.5" y="602.04" width="65.80" height="1" fill="#f8b80e" opacity="0.55"/>
<rect x="133.5" y="606.50" width="65.80" height="5.05" fill="#f8b80e"/>
<rect x="133.5" y="607.65" width="65.80" height="1" fill="#f9a00c" opacity="0.55"/>
<rect x="133.5" y="611.20" width="65.80" height="4.95" fill="#f2d816"/>
<rect x="133.5" y="612.69" width="65.80" height="1" fill="#f8b80e" opacity="0.55"/>
<rect x="133.5" y="615.80" width="65.80" height="3.35" fill="#f9860c"/>
<rect x="133.5" y="618.80" width="65.80" height="2.05" fill="#f05f14"/>
<rect x="133.5" y="620.50" width="65.80" height="3.85" fill="#f9860c"/>
<rect x="133.5" y="622.74" width="65.80" height="1" fill="#de3014" opacity="0.55"/>
<rect x="133.5" y="624.00" width="65.80" height="2.35" fill="#f05f14"/>
<rect x="133.5" y="626.00" width="65.80" height="2.35" fill="#de3014"/>
<rect x="133.5" y="628.00" width="65.80" height="3.35" fill="#f9860c"/>
<rect x="133.5" y="631.00" width="65.80" height="2.65" fill="#de3014"/>
<rect x="133.5" y="633.30" width="65.80" height="3.05" fill="#f9860c"/>
<rect x="133.5" y="636.00" width="65.80" height="2.35" fill="#de3014"/>
<rect x="133.5" y="638.00" width="65.80" height="3.35" fill="#f05f14"/>
<rect x="133.5" y="641.00" width="65.80" height="2.35" fill="#de3014"/>
<rect x="133.5" y="643.00" width="65.80" height="3.35" fill="#f9860c"/>
<rect x="133.5" y="646.00" width="65.80" height="2.35" fill="#de3014"/>
<rect x="133.5" y="648.00" width="65.80" height="3.35" fill="#f05f14"/>
<rect x="133.5" y="651.00" width="65.80" height="4.35" fill="#de3014"/>
<rect x="133.5" y="652.97" width="65.80" height="1" fill="#f05f14" opacity="0.55"/>
<rect x="133.5" y="655.00" width="65.80" height="3.85" fill="#f9860c"/>
<rect x="133.5" y="656.37" width="65.80" height="1" fill="#de3014" opacity="0.55"/>
<rect x="133.5" y="658.50" width="65.80" height="1.85" fill="#f9a00c"/>
<rect x="133.5" y="660.00" width="65.80" height="9.75" fill="#eed020"/>
<rect x="133.5" y="661.46" width="65.80" height="1" fill="#f8b80e" opacity="0.55"/>
<rect x="133.5" y="664.58" width="65.80" height="1" fill="#d2c040" opacity="0.55"/>
<rect x="133.5" y="667.48" width="65.80" height="1" fill="#f8b80e" opacity="0.55"/>
<rect x="133.5" y="669.40" width="65.80" height="2.15" fill="#b8aa6c"/>
<rect x="133.5" y="671.20" width="65.80" height="7.85" fill="#f2d816"/>
<rect x="133.5" y="672.59" width="65.80" height="1" fill="#d2c040" opacity="0.55"/>
<rect x="133.5" y="677.30" width="65.80" height="1" fill="#f8b80e" opacity="0.55"/>
<rect x="133.5" y="678.70" width="65.80" height="5.05" fill="#f8b80e"/>
<rect x="133.5" y="679.79" width="65.80" height="1" fill="#f9a00c" opacity="0.55"/>
<rect x="133.5" y="683.40" width="65.80" height="11.95" fill="#f9a00c"/>
<rect x="133.5" y="686.33" width="65.80" height="1" fill="#f9860c" opacity="0.55"/>
<rect x="133.5" y="690.67" width="65.80" height="1" fill="#f8b80e" opacity="0.55"/>
<rect x="133.5" y="695.00" width="65.80" height="2.15" fill="#f9860c"/>
<rect x="133.5" y="696.80" width="65.80" height="2.05" fill="#9490a0"/>
<rect x="133.5" y="698.50" width="65.80" height="6.25" fill="#eed020"/>
<rect x="133.5" y="701.15" width="65.80" height="1" fill="#f8b80e" opacity="0.55"/>
<rect x="133.5" y="704.40" width="65.80" height="1.45" fill="#9490a0"/>
<rect x="133.5" y="705.50" width="65.80" height="3.85" fill="#b8aa6c"/>
<rect x="133.5" y="707.54" width="65.80" height="1" fill="#a8a088" opacity="0.55"/>
<rect x="133.5" y="709.00" width="65.80" height="3.85" fill="#f9a00c"/>
<rect x="133.5" y="710.25" width="65.80" height="1" fill="#f8b80e" opacity="0.55"/>
<rect x="133.5" y="712.50" width="65.80" height="1.55" fill="#a08a70"/>
<rect x="205.4" y="351.00" width="65.50" height="0.85" fill="#2a2a3a"/>
<rect x="205.4" y="351.50" width="65.50" height="3.85" fill="#8686b0"/>
<rect x="205.4" y="355.00" width="65.50" height="2.05" fill="#303284"/>
<rect x="205.4" y="356.70" width="65.50" height="5.05" fill="#a8a088"/>
<rect x="205.4" y="358.93" width="65.50" height="1" fill="#b8aa6c" opacity="0.55"/>
<rect x="205.4" y="361.40" width="65.50" height="3.25" fill="#dcc860"/>
<rect x="205.4" y="364.30" width="65.50" height="3.85" fill="#a8a088"/>
<rect x="205.4" y="367.80" width="65.50" height="3.85" fill="#9490a0"/>
<rect x="205.4" y="371.30" width="65.50" height="3.85" fill="#5058a2"/>
<rect x="205.4" y="372.44" width="65.50" height="1" fill="#8686b0" opacity="0.55"/>
<rect x="205.4" y="374.80" width="65.50" height="3.85" fill="#8686b0"/>
<rect x="205.4" y="375.92" width="65.50" height="1" fill="#5058a2" opacity="0.55"/>
<rect x="205.4" y="378.30" width="65.50" height="3.85" fill="#5058a2"/>
<rect x="205.4" y="380.36" width="65.50" height="1" fill="#263e8c" opacity="0.55"/>
<rect x="205.4" y="381.80" width="65.50" height="17.75" fill="#263e8c"/>
<rect x="205.4" y="383.08" width="65.50" height="1" fill="#303284" opacity="0.55"/>
<rect x="205.4" y="388.03" width="65.50" height="1" fill="#2e4096" opacity="0.55"/>
<rect x="205.4" y="392.36" width="65.50" height="1" fill="#2e4096" opacity="0.55"/>
<rect x="205.4" y="396.32" width="65.50" height="1" fill="#5058a2" opacity="0.55"/>
<rect x="205.4" y="399.20" width="65.50" height="5.05" fill="#eed020"/>
<rect x="205.4" y="402.05" width="65.50" height="1" fill="#b8aa6c" opacity="0.55"/>
<rect x="205.4" y="403.90" width="65.50" height="2.65" fill="#605c58"/>
<rect x="205.4" y="406.20" width="65.50" height="3.85" fill="#b8aa6c"/>
<rect x="205.4" y="409.70" width="65.50" height="2.65" fill="#dcc860"/>
<rect x="205.4" y="412.00" width="65.50" height="3.85" fill="#8686b0"/>
<rect x="205.4" y="415.50" width="65.50" height="2.75" fill="#303284"/>
<rect x="205.4" y="417.90" width="65.50" height="4.95" fill="#9490a0"/>
<rect x="205.4" y="418.94" width="65.50" height="1" fill="#8686b0" opacity="0.55"/>
<rect x="205.4" y="422.50" width="65.50" height="2.75" fill="#2e4096"/>
<rect x="205.4" y="424.90" width="65.50" height="3.85" fill="#8686b0"/>
<rect x="205.4" y="428.40" width="65.50" height="3.75" fill="#dcc860"/>
<rect x="205.4" y="431.80" width="65.50" height="2.75" fill="#9490a0"/>
<rect x="205.4" y="434.20" width="65.50" height="6.15" fill="#5058a2"/>
<rect x="205.4" y="435.84" width="65.50" height="1" fill="#263e8c" opacity="0.55"/>
<rect x="205.4" y="438.53" width="65.50" height="1" fill="#8686b0" opacity="0.55"/>
<rect x="205.4" y="440.00" width="65.50" height="2.65" fill="#5058a2"/>
<rect x="205.4" y="442.30" width="65.50" height="3.85" fill="#2e4096"/>
<rect x="205.4" y="445.80" width="65.50" height="2.15" fill="#9490a0"/>
<rect x="205.4" y="447.60" width="65.50" height="4.35" fill="#5058a2"/>
<rect x="205.4" y="450.07" width="65.50" height="1" fill="#263e8c" opacity="0.55"/>
<rect x="205.4" y="451.60" width="65.50" height="6.25" fill="#263e8c"/>
<rect x="205.4" y="454.43" width="65.50" height="1" fill="#303284" opacity="0.55"/>
<rect x="205.4" y="457.50" width="65.50" height="1.45" fill="#2c2c50"/>
<rect x="205.4" y="458.60" width="65.50" height="5.05" fill="#eed020"/>
<rect x="205.4" y="460.55" width="65.50" height="1" fill="#d2c040" opacity="0.55"/>
<rect x="205.4" y="463.30" width="65.50" height="2.05" fill="#b8aa6c"/>
<rect x="205.4" y="465.00" width="65.50" height="5.65" fill="#a8a088"/>
<rect x="205.4" y="466.83" width="65.50" height="1" fill="#9490a0" opacity="0.55"/>
<rect x="205.4" y="470.30" width="65.50" height="3.85" fill="#9490a0"/>
<rect x="205.4" y="472.45" width="65.50" height="1" fill="#a8a088" opacity="0.55"/>
<rect x="205.4" y="473.80" width="65.50" height="6.75" fill="#d2c040"/>
<rect x="205.4" y="474.82" width="65.50" height="1" fill="#b8aa6c" opacity="0.55"/>
<rect x="205.4" y="477.53" width="65.50" height="1" fill="#b8aa6c" opacity="0.55"/>
<rect x="205.4" y="480.20" width="65.50" height="2.05" fill="#a8a088"/>
<rect x="205.4" y="481.90" width="65.50" height="5.05" fill="#eed020"/>
<rect x="205.4" y="484.66" width="65.50" height="1" fill="#f8b80e" opacity="0.55"/>
<rect x="205.4" y="486.60" width="65.50" height="2.65" fill="#f8b80e"/>
<rect x="205.4" y="488.90" width="65.50" height="5.05" fill="#f2d816"/>
<rect x="205.4" y="491.77" width="65.50" height="1" fill="#f8b80e" opacity="0.55"/>
<rect x="205.4" y="493.60" width="65.50" height="1.45" fill="#b8aa6c"/>
<rect x="205.4" y="494.70" width="65.50" height="7.35" fill="#d2c040"/>
<rect x="205.4" y="496.58" width="65.50" height="1" fill="#b8aa6c" opacity="0.55"/>
<rect x="205.4" y="500.38" width="65.50" height="1" fill="#b8aa6c" opacity="0.55"/>
<rect x="205.4" y="501.70" width="65.50" height="2.15" fill="#a08a70"/>
<rect x="205.4" y="503.50" width="65.50" height="2.05" fill="#b8aa6c"/>
<rect x="205.4" y="505.20" width="65.50" height="7.35" fill="#eed020"/>
<rect x="205.4" y="506.38" width="65.50" height="1" fill="#d2c040" opacity="0.55"/>
<rect x="205.4" y="509.45" width="65.50" height="1" fill="#f8b80e" opacity="0.55"/>
<rect x="205.4" y="512.20" width="65.50" height="3.85" fill="#f8b80e"/>
<rect x="205.4" y="515.70" width="65.50" height="5.05" fill="#eed020"/>
<rect x="205.4" y="518.02" width="65.50" height="1" fill="#b8aa6c" opacity="0.55"/>
<rect x="205.4" y="520.40" width="65.50" height="3.25" fill="#e86a10"/>
<rect x="205.4" y="523.30" width="65.50" height="2.05" fill="#9490a0"/>
<rect x="205.4" y="525.00" width="65.50" height="5.05" fill="#a8a088"/>
<rect x="205.4" y="526.02" width="65.50" height="1" fill="#b8aa6c" opacity="0.55"/>
<rect x="205.4" y="529.70" width="65.50" height="2.65" fill="#b04432"/>
<rect x="205.4" y="532.00" width="65.50" height="7.35" fill="#f05f14"/>
<rect x="205.4" y="534.22" width="65.50" height="1" fill="#e86a10" opacity="0.55"/>
<rect x="205.4" y="537.15" width="65.50" height="1" fill="#f9860c" opacity="0.55"/>
<rect x="205.4" y="539.00" width="65.50" height="11.95" fill="#f9860c"/>
<rect x="205.4" y="540.88" width="65.50" height="1" fill="#de3014" opacity="0.55"/>
<rect x="205.4" y="544.20" width="65.50" height="1" fill="#e86a10" opacity="0.55"/>
<rect x="205.4" y="547.20" width="65.50" height="1" fill="#f05f14" opacity="0.55"/>
<rect x="205.4" y="550.60" width="65.50" height="2.15" fill="#f05f14"/>
<rect x="205.4" y="552.40" width="65.50" height="3.85" fill="#f9860c"/>
<rect x="205.4" y="555.90" width="65.50" height="2.05" fill="#f05f14"/>
<rect x="205.4" y="557.60" width="65.50" height="7.35" fill="#f9860c"/>
<rect x="205.4" y="559.00" width="65.50" height="1" fill="#de3014" opacity="0.55"/>
<rect x="205.4" y="562.46" width="65.50" height="1" fill="#f9a00c" opacity="0.55"/>
<rect x="205.4" y="564.60" width="65.50" height="2.65" fill="#f05f14"/>
<rect x="205.4" y="566.90" width="65.50" height="13.15" fill="#f9860c"/>
<rect x="205.4" y="568.32" width="65.50" height="1" fill="#de3014" opacity="0.55"/>
<rect x="205.4" y="572.06" width="65.50" height="1" fill="#f05f14" opacity="0.55"/>
<rect x="205.4" y="576.34" width="65.50" height="1" fill="#e86a10" opacity="0.55"/>
<rect x="205.4" y="579.70" width="65.50" height="2.15" fill="#e86a10"/>
<rect x="205.4" y="581.50" width="65.50" height="11.45" fill="#f9a00c"/>
<rect x="205.4" y="582.73" width="65.50" height="1" fill="#f8b80e" opacity="0.55"/>
<rect x="205.4" y="585.91" width="65.50" height="1" fill="#f9860c" opacity="0.55"/>
<rect x="205.4" y="590.49" width="65.50" height="1" fill="#f8b80e" opacity="0.55"/>
<rect x="205.4" y="592.60" width="65.50" height="3.25" fill="#f05f14"/>
<rect x="205.4" y="595.50" width="65.50" height="2.05" fill="#de3014"/>
<rect x="205.4" y="597.20" width="65.50" height="2.65" fill="#f05f14"/>
<rect x="205.4" y="599.50" width="65.50" height="5.05" fill="#f9860c"/>
<rect x="205.4" y="601.49" width="65.50" height="1" fill="#e86a10" opacity="0.55"/>
<rect x="205.4" y="604.20" width="65.50" height="2.65" fill="#de3014"/>
<rect x="205.4" y="606.50" width="65.50" height="5.05" fill="#f9860c"/>
<rect x="205.4" y="609.18" width="65.50" height="1" fill="#f9a00c" opacity="0.55"/>
<rect x="205.4" y="611.20" width="65.50" height="4.95" fill="#f05f14"/>
<rect x="205.4" y="612.35" width="65.50" height="1" fill="#de3014" opacity="0.55"/>
<rect x="205.4" y="615.80" width="65.50" height="5.05" fill="#f9a00c"/>
<rect x="205.4" y="618.02" width="65.50" height="1" fill="#e86a10" opacity="0.55"/>
<rect x="205.4" y="620.50" width="65.50" height="3.85" fill="#f8b80e"/>
<rect x="205.4" y="622.64" width="65.50" height="1" fill="#eed020" opacity="0.55"/>
<rect x="205.4" y="624.00" width="65.50" height="7.35" fill="#eed020"/>
<rect x="205.4" y="626.13" width="65.50" height="1" fill="#f8b80e" opacity="0.55"/>
<rect x="205.4" y="628.97" width="65.50" height="1" fill="#b8aa6c" opacity="0.55"/>
<rect x="205.4" y="631.00" width="65.50" height="4.95" fill="#f9a00c"/>
<rect x="205.4" y="633.54" width="65.50" height="1" fill="#f8b80e" opacity="0.55"/>
<rect x="205.4" y="635.60" width="65.50" height="10.85" fill="#f8b80e"/>
<rect x="205.4" y="636.88" width="65.50" height="1" fill="#f9a00c" opacity="0.55"/>
<rect x="205.4" y="641.84" width="65.50" height="1" fill="#f9a00c" opacity="0.55"/>
<rect x="205.4" y="646.10" width="65.50" height="2.15" fill="#b8aa6c"/>
<rect x="205.4" y="647.90" width="65.50" height="9.05" fill="#f2d816"/>
<rect x="205.4" y="650.16" width="65.50" height="1" fill="#f8b80e" opacity="0.55"/>
<rect x="205.4" y="654.26" width="65.50" height="1" fill="#d2c040" opacity="0.55"/>
<rect x="205.4" y="656.60" width="65.50" height="2.75" fill="#f9a00c"/>
<rect x="205.4" y="659.00" width="65.50" height="4.35" fill="#de3014"/>
<rect x="205.4" y="661.37" width="65.50" height="1" fill="#f05f14" opacity="0.55"/>
<rect x="205.4" y="663.00" width="65.50" height="5.35" fill="#f05f14"/>
<rect x="205.4" y="664.51" width="65.50" height="1" fill="#e86a10" opacity="0.55"/>
<rect x="205.4" y="668.00" width="65.50" height="3.35" fill="#de3014"/>
<rect x="205.4" y="671.00" width="65.50" height="3.35" fill="#f05f14"/>
<rect x="205.4" y="674.00" width="65.50" height="4.35" fill="#de3014"/>
<rect x="205.4" y="675.94" width="65.50" height="1" fill="#f05f14" opacity="0.55"/>
<rect x="205.4" y="678.00" width="65.50" height="3.35" fill="#f9860c"/>
<rect x="205.4" y="681.00" width="65.50" height="4.35" fill="#de3014"/>
<rect x="205.4" y="682.54" width="65.50" height="1" fill="#f05f14" opacity="0.55"/>
<rect x="205.4" y="685.00" width="65.50" height="4.85" fill="#f9860c"/>
<rect x="205.4" y="687.89" width="65.50" height="1" fill="#f9a00c" opacity="0.55"/>
<rect x="205.4" y="689.50" width="65.50" height="3.35" fill="#f05f14"/>
<rect x="205.4" y="692.50" width="65.50" height="4.55" fill="#de3014"/>
<rect x="205.4" y="695.01" width="65.50" height="1" fill="#f05f14" opacity="0.55"/>
<rect x="205.4" y="696.70" width="65.50" height="3.25" fill="#f9860c"/>
<rect x="205.4" y="699.60" width="65.50" height="3.25" fill="#de3014"/>
<rect x="205.4" y="702.50" width="65.50" height="4.85" fill="#f9860c"/>
<rect x="205.4" y="704.90" width="65.50" height="1" fill="#de3014" opacity="0.55"/>
<rect x="205.4" y="707.00" width="65.50" height="4.35" fill="#f9a00c"/>
<rect x="205.4" y="711.00" width="65.50" height="2.15" fill="#f8b80e"/>
<rect x="205.4" y="712.80" width="65.50" height="1.25" fill="#a08a70"/>
<rect x="276.0" y="351.00" width="66.00" height="0.85" fill="#2a2a3a"/>
<rect x="276.0" y="351.50" width="66.00" height="2.85" fill="#f05f14"/>
<rect x="276.0" y="354.00" width="66.00" height="2.35" fill="#f9860c"/>
<rect x="276.0" y="356.00" width="66.00" height="1.55" fill="#f05f14"/>
<rect x="276.0" y="357.20" width="66.00" height="3.15" fill="#f9860c"/>
<rect x="276.0" y="360.00" width="66.00" height="1.35" fill="#e86a10"/>
<rect x="276.0" y="361.00" width="66.00" height="2.35" fill="#f9860c"/>
<rect x="276.0" y="363.00" width="66.00" height="1.55" fill="#f05f14"/>
<rect x="276.0" y="364.20" width="66.00" height="2.15" fill="#f9860c"/>
<rect x="276.0" y="366.00" width="66.00" height="1.35" fill="#e86a10"/>
<rect x="276.0" y="367.00" width="66.00" height="2.35" fill="#f9860c"/>
<rect x="276.0" y="369.00" width="66.00" height="1.55" fill="#f05f14"/>
<rect x="276.0" y="370.20" width="66.00" height="1.45" fill="#f9860c"/>
<rect x="276.0" y="371.30" width="66.00" height="2.05" fill="#e86a10"/>
<rect x="276.0" y="373.00" width="66.00" height="3.35" fill="#f9860c"/>
<rect x="276.0" y="376.00" width="66.00" height="1.55" fill="#f05f14"/>
<rect x="276.0" y="377.20" width="66.00" height="3.15" fill="#f9860c"/>
<rect x="276.0" y="380.00" width="66.00" height="1.55" fill="#f05f14"/>
<rect x="276.0" y="381.20" width="66.00" height="2.15" fill="#f9860c"/>
<rect x="276.0" y="383.00" width="66.00" height="2.35" fill="#f05f14"/>
<rect x="276.0" y="385.00" width="66.00" height="1.55" fill="#de3014"/>
<rect x="276.0" y="386.20" width="66.00" height="4.15" fill="#f05f14"/>
<rect x="276.0" y="388.64" width="66.00" height="1" fill="#de3014" opacity="0.55"/>
<rect x="276.0" y="390.00" width="66.00" height="2.65" fill="#de3014"/>
<rect x="276.0" y="392.30" width="66.00" height="7.25" fill="#f05f14"/>
<rect x="276.0" y="393.69" width="66.00" height="1" fill="#de3014" opacity="0.55"/>
<rect x="276.0" y="397.14" width="66.00" height="1" fill="#e86a10" opacity="0.55"/>
<rect x="276.0" y="399.20" width="66.00" height="7.35" fill="#f8b80e"/>
<rect x="276.0" y="401.21" width="66.00" height="1" fill="#eed020" opacity="0.55"/>
<rect x="276.0" y="404.86" width="66.00" height="1" fill="#f9a00c" opacity="0.55"/>
<rect x="276.0" y="406.20" width="66.00" height="22.55" fill="#f9a00c"/>
<rect x="276.0" y="408.93" width="66.00" height="1" fill="#e86a10" opacity="0.55"/>
<rect x="276.0" y="413.74" width="66.00" height="1" fill="#f9860c" opacity="0.55"/>
<rect x="276.0" y="416.78" width="66.00" height="1" fill="#f8b80e" opacity="0.55"/>
<rect x="276.0" y="421.73" width="66.00" height="1" fill="#f8b80e" opacity="0.55"/>
<rect x="276.0" y="425.57" width="66.00" height="1" fill="#f8b80e" opacity="0.55"/>
<rect x="276.0" y="428.40" width="66.00" height="2.65" fill="#f8b80e"/>
<rect x="276.0" y="430.70" width="66.00" height="6.15" fill="#f05f14"/>
<rect x="276.0" y="433.14" width="66.00" height="1" fill="#de3014" opacity="0.55"/>
<rect x="276.0" y="436.50" width="66.00" height="3.85" fill="#f9860c"/>
<rect x="276.0" y="437.67" width="66.00" height="1" fill="#f05f14" opacity="0.55"/>
<rect x="276.0" y="440.00" width="66.00" height="3.85" fill="#f9860c"/>
<rect x="276.0" y="441.84" width="66.00" height="1" fill="#e86a10" opacity="0.55"/>
<rect x="276.0" y="443.50" width="66.00" height="2.85" fill="#f05f14"/>
<rect x="276.0" y="446.00" width="66.00" height="1.35" fill="#e86a10"/>
<rect x="276.0" y="447.00" width="66.00" height="7.35" fill="#f05f14"/>
<rect x="276.0" y="448.06" width="66.00" height="1" fill="#de3014" opacity="0.55"/>
<rect x="276.0" y="451.63" width="66.00" height="1" fill="#de3014" opacity="0.55"/>
<rect x="276.0" y="454.00" width="66.00" height="4.35" fill="#f9860c"/>
<rect x="276.0" y="455.67" width="66.00" height="1" fill="#de3014" opacity="0.55"/>
<rect x="276.0" y="458.00" width="66.00" height="1.35" fill="#e86a10"/>
<rect x="276.0" y="459.00" width="66.00" height="11.65" fill="#f9860c"/>
<rect x="276.0" y="462.00" width="66.00" height="1" fill="#f9a00c" opacity="0.55"/>
<rect x="276.0" y="466.60" width="66.00" height="1" fill="#f05f14" opacity="0.55"/>
<rect x="276.0" y="470.30" width="66.00" height="4.05" fill="#f05f14"/>
<rect x="276.0" y="472.29" width="66.00" height="1" fill="#e86a10" opacity="0.55"/>
<rect x="276.0" y="474.00" width="66.00" height="1.35" fill="#e86a10"/>
<rect x="276.0" y="475.00" width="66.00" height="6.35" fill="#f05f14"/>
<rect x="276.0" y="476.44" width="66.00" height="1" fill="#e86a10" opacity="0.55"/>
<rect x="276.0" y="481.00" width="66.00" height="1.35" fill="#de3014"/>
<rect x="276.0" y="482.00" width="66.00" height="6.05" fill="#f05f14"/>
<rect x="276.0" y="484.66" width="66.00" height="1" fill="#e86a10" opacity="0.55"/>
<rect x="276.0" y="487.70" width="66.00" height="7.35" fill="#f8b80e"/>
<rect x="276.0" y="489.75" width="66.00" height="1" fill="#eed020" opacity="0.55"/>
<rect x="276.0" y="493.02" width="66.00" height="1" fill="#eed020" opacity="0.55"/>
<rect x="276.0" y="494.70" width="66.00" height="9.65" fill="#f9a00c"/>
<rect x="276.0" y="497.44" width="66.00" height="1" fill="#e86a10" opacity="0.55"/>
<rect x="276.0" y="500.46" width="66.00" height="1" fill="#f9860c" opacity="0.55"/>
<rect x="276.0" y="504.00" width="66.00" height="8.55" fill="#eed020"/>
<rect x="276.0" y="506.05" width="66.00" height="1" fill="#f8b80e" opacity="0.55"/>
<rect x="276.0" y="509.79" width="66.00" height="1" fill="#b8aa6c" opacity="0.55"/>
<rect x="276.0" y="512.20" width="66.00" height="2.15" fill="#606080"/>
<rect x="276.0" y="514.00" width="66.00" height="2.05" fill="#f9a00c"/>
<rect x="276.0" y="515.70" width="66.00" height="6.15" fill="#f8b80e"/>
<rect x="276.0" y="517.71" width="66.00" height="1" fill="#eed020" opacity="0.55"/>
<rect x="276.0" y="520.28" width="66.00" height="1" fill="#f9a00c" opacity="0.55"/>
<rect x="276.0" y="521.50" width="66.00" height="2.65" fill="#f9860c"/>
<rect x="276.0" y="523.80" width="66.00" height="5.05" fill="#eed020"/>
<rect x="276.0" y="525.60" width="66.00" height="1" fill="#f8b80e" opacity="0.55"/>
<rect x="276.0" y="528.50" width="66.00" height="2.65" fill="#b8aa6c"/>
<rect x="276.0" y="530.80" width="66.00" height="1.55" fill="#a08a70"/>
<rect x="276.0" y="532.00" width="66.00" height="14.35" fill="#263e8c"/>
<rect x="276.0" y="533.19" width="66.00" height="1" fill="#5058a2" opacity="0.55"/>
<rect x="276.0" y="535.85" width="66.00" height="1" fill="#2e4096" opacity="0.55"/>
<rect x="276.0" y="539.50" width="66.00" height="1" fill="#303284" opacity="0.55"/>
<rect x="276.0" y="542.67" width="66.00" height="1" fill="#303284" opacity="0.55"/>
<rect x="276.0" y="546.00" width="66.00" height="6.15" fill="#2e4096"/>
<rect x="276.0" y="547.68" width="66.00" height="1" fill="#263e8c" opacity="0.55"/>
<rect x="276.0" y="551.80" width="66.00" height="10.25" fill="#263e8c"/>
<rect x="276.0" y="553.02" width="66.00" height="1" fill="#303284" opacity="0.55"/>
<rect x="276.0" y="557.06" width="66.00" height="1" fill="#303284" opacity="0.55"/>
<rect x="276.0" y="559.89" width="66.00" height="1" fill="#5058a2" opacity="0.55"/>
<rect x="276.0" y="561.70" width="66.00" height="2.05" fill="#8686b0"/>
<rect x="276.0" y="563.40" width="66.00" height="5.05" fill="#303284"/>
<rect x="276.0" y="568.10" width="66.00" height="4.45" fill="#dcc860"/>
<rect x="276.0" y="569.41" width="66.00" height="1" fill="#b8aa6c" opacity="0.55"/>
<rect x="276.0" y="572.20" width="66.00" height="6.75" fill="#8686b0"/>
<rect x="276.0" y="573.84" width="66.00" height="1" fill="#9490a0" opacity="0.55"/>
<rect x="276.0" y="576.96" width="66.00" height="1" fill="#9490a0" opacity="0.55"/>
<rect x="276.0" y="578.60" width="66.00" height="2.65" fill="#2c2c50"/>
<rect x="276.0" y="580.90" width="66.00" height="6.15" fill="#eed020"/>
<rect x="276.0" y="583.36" width="66.00" height="1" fill="#d2c040" opacity="0.55"/>
<rect x="276.0" y="586.70" width="66.00" height="2.15" fill="#b8aa6c"/>
<rect x="276.0" y="588.50" width="66.00" height="4.45" fill="#f2d816"/>
<rect x="276.0" y="590.75" width="66.00" height="1" fill="#f8b80e" opacity="0.55"/>
<rect x="276.0" y="592.60" width="66.00" height="4.95" fill="#8686b0"/>
<rect x="276.0" y="594.66" width="66.00" height="1" fill="#9490a0" opacity="0.55"/>
<rect x="276.0" y="597.20" width="66.00" height="2.65" fill="#b8aa6c"/>
<rect x="276.0" y="599.50" width="66.00" height="2.75" fill="#8a8a50"/>
<rect x="276.0" y="601.90" width="66.00" height="4.95" fill="#9490a0"/>
<rect x="276.0" y="604.17" width="66.00" height="1" fill="#8686b0" opacity="0.55"/>
<rect x="276.0" y="606.50" width="66.00" height="7.35" fill="#2e4096"/>
<rect x="276.0" y="609.23" width="66.00" height="1" fill="#5058a2" opacity="0.55"/>
<rect x="276.0" y="613.50" width="66.00" height="3.85" fill="#5058a2"/>
<rect x="276.0" y="617.00" width="66.00" height="3.85" fill="#8686b0"/>
<rect x="276.0" y="619.22" width="66.00" height="1" fill="#5058a2" opacity="0.55"/>
<rect x="276.0" y="620.50" width="66.00" height="3.85" fill="#eed020"/>
<rect x="276.0" y="624.00" width="66.00" height="5.05" fill="#d2c040"/>
<rect x="276.0" y="626.62" width="66.00" height="1" fill="#b8aa6c" opacity="0.55"/>
<rect x="276.0" y="628.70" width="66.00" height="4.95" fill="#b8aa6c"/>
<rect x="276.0" y="630.33" width="66.00" height="1" fill="#9490a0" opacity="0.55"/>
<rect x="276.0" y="633.30" width="66.00" height="2.05" fill="#605c58"/>
<rect x="276.0" y="635.00" width="66.00" height="20.75" fill="#f2d816"/>
<rect x="276.0" y="638.00" width="66.00" height="1" fill="#eed020" opacity="0.55"/>
<rect x="276.0" y="640.83" width="66.00" height="1" fill="#eed020" opacity="0.55"/>
<rect x="276.0" y="643.66" width="66.00" height="1" fill="#eed020" opacity="0.55"/>
<rect x="276.0" y="646.81" width="66.00" height="1" fill="#eed020" opacity="0.55"/>
<rect x="276.0" y="650.40" width="66.00" height="1" fill="#d2c040" opacity="0.55"/>
<rect x="276.0" y="655.40" width="66.00" height="3.95" fill="#f9a00c"/>
<rect x="276.0" y="659.00" width="66.00" height="10.75" fill="#eed020"/>
<rect x="276.0" y="660.40" width="66.00" height="1" fill="#f8b80e" opacity="0.55"/>
<rect x="276.0" y="664.61" width="66.00" height="1" fill="#d2c040" opacity="0.55"/>
<rect x="276.0" y="667.35" width="66.00" height="1" fill="#f8b80e" opacity="0.55"/>
<rect x="276.0" y="669.40" width="66.00" height="2.15" fill="#b8aa6c"/>
<rect x="276.0" y="671.20" width="66.00" height="7.85" fill="#f8b80e"/>
<rect x="276.0" y="674.02" width="66.00" height="1" fill="#eed020" opacity="0.55"/>
<rect x="276.0" y="676.81" width="66.00" height="1" fill="#eed020" opacity="0.55"/>
<rect x="276.0" y="678.70" width="66.00" height="5.05" fill="#d2c040"/>
<rect x="276.0" y="681.07" width="66.00" height="1" fill="#b8aa6c" opacity="0.55"/>
<rect x="276.0" y="683.40" width="66.00" height="3.85" fill="#dcc860"/>
<rect x="276.0" y="685.36" width="66.00" height="1" fill="#b8aa6c" opacity="0.55"/>
<rect x="276.0" y="686.90" width="66.00" height="2.05" fill="#9490a0"/>
<rect x="276.0" y="688.60" width="66.00" height="2.15" fill="#2c2c50"/>
<rect x="276.0" y="690.40" width="66.00" height="2.65" fill="#b8aa6c"/>
<rect x="276.0" y="692.70" width="66.00" height="2.65" fill="#2c2c50"/>
<rect x="276.0" y="695.00" width="66.00" height="2.75" fill="#9490a0"/>
<rect x="276.0" y="697.40" width="66.00" height="4.95" fill="#f2d816"/>
<rect x="276.0" y="699.50" width="66.00" height="1" fill="#f8b80e" opacity="0.55"/>
<rect x="276.0" y="702.00" width="66.00" height="5.05" fill="#d2c040"/>
<rect x="276.0" y="703.96" width="66.00" height="1" fill="#b8aa6c" opacity="0.55"/>
<rect x="276.0" y="706.70" width="66.00" height="2.65" fill="#2c2c50"/>
<rect x="276.0" y="709.00" width="66.00" height="5.05" fill="#f9860c"/>
<rect x="276.0" y="710.41" width="66.00" height="1" fill="#de3014" opacity="0.55"/>
<rect x="348.2" y="351.00" width="64.80" height="0.85" fill="#2a2a3a"/>
<rect x="348.2" y="351.50" width="64.80" height="8.45" fill="#f9a00c"/>
<rect x="348.2" y="354.35" width="64.80" height="1" fill="#f9860c" opacity="0.55"/>
<rect x="348.2" y="358.30" width="64.80" height="1" fill="#f9860c" opacity="0.55"/>
<rect x="348.2" y="359.60" width="64.80" height="9.75" fill="#f9a00c"/>
<rect x="348.2" y="361.52" width="64.80" height="1" fill="#f9860c" opacity="0.55"/>
<rect x="348.2" y="364.84" width="64.80" height="1" fill="#f8b80e" opacity="0.55"/>
<rect x="348.2" y="369.00" width="64.80" height="10.75" fill="#f9a00c"/>
<rect x="348.2" y="370.71" width="64.80" height="1" fill="#f9860c" opacity="0.55"/>
<rect x="348.2" y="374.71" width="64.80" height="1" fill="#f9860c" opacity="0.55"/>
<rect x="348.2" y="379.40" width="64.80" height="2.75" fill="#e86a10"/>
<rect x="348.2" y="381.80" width="64.80" height="10.85" fill="#f9860c"/>
<rect x="348.2" y="382.88" width="64.80" height="1" fill="#de3014" opacity="0.55"/>
<rect x="348.2" y="385.83" width="64.80" height="1" fill="#f05f14" opacity="0.55"/>
<rect x="348.2" y="389.23" width="64.80" height="1" fill="#e86a10" opacity="0.55"/>
<rect x="348.2" y="392.30" width="64.80" height="8.45" fill="#f05f14"/>
<rect x="348.2" y="393.69" width="64.80" height="1" fill="#de3014" opacity="0.55"/>
<rect x="348.2" y="396.43" width="64.80" height="1" fill="#de3014" opacity="0.55"/>
<rect x="348.2" y="400.40" width="64.80" height="4.95" fill="#f9860c"/>
<rect x="348.2" y="401.57" width="64.80" height="1" fill="#f05f14" opacity="0.55"/>
<rect x="348.2" y="405.00" width="64.80" height="1.55" fill="#e86a10"/>
<rect x="348.2" y="406.20" width="64.80" height="5.05" fill="#f9860c"/>
<rect x="348.2" y="407.58" width="64.80" height="1" fill="#f9a00c" opacity="0.55"/>
<rect x="348.2" y="410.90" width="64.80" height="2.65" fill="#e86a10"/>
<rect x="348.2" y="413.20" width="64.80" height="3.85" fill="#f05f14"/>
<rect x="348.2" y="416.70" width="64.80" height="1.55" fill="#de3014"/>
<rect x="348.2" y="417.90" width="64.80" height="3.85" fill="#f9860c"/>
<rect x="348.2" y="419.42" width="64.80" height="1" fill="#f05f14" opacity="0.55"/>
<rect x="348.2" y="421.40" width="64.80" height="3.85" fill="#f05f14"/>
<rect x="348.2" y="424.90" width="64.80" height="3.85" fill="#f9860c"/>
<rect x="348.2" y="428.40" width="64.80" height="3.75" fill="#f9a00c"/>
<rect x="348.2" y="431.80" width="64.80" height="2.75" fill="#f9860c"/>
<rect x="348.2" y="434.20" width="64.80" height="6.15" fill="#f9a00c"/>
<rect x="348.2" y="436.01" width="64.80" height="1" fill="#f8b80e" opacity="0.55"/>
<rect x="348.2" y="440.00" width="64.80" height="13.15" fill="#f9a00c"/>
<rect x="348.2" y="442.39" width="64.80" height="1" fill="#f8b80e" opacity="0.55"/>
<rect x="348.2" y="446.80" width="64.80" height="1" fill="#f8b80e" opacity="0.55"/>
<rect x="348.2" y="449.82" width="64.80" height="1" fill="#f9860c" opacity="0.55"/>
<rect x="348.2" y="452.80" width="64.80" height="2.65" fill="#e86a10"/>
<rect x="348.2" y="455.10" width="64.80" height="6.25" fill="#eed020"/>
<rect x="348.2" y="456.78" width="64.80" height="1" fill="#b8aa6c" opacity="0.55"/>
<rect x="348.2" y="459.54" width="64.80" height="1" fill="#b8aa6c" opacity="0.55"/>
<rect x="348.2" y="461.00" width="64.80" height="4.95" fill="#f2d816"/>
<rect x="348.2" y="463.81" width="64.80" height="1" fill="#eed020" opacity="0.55"/>
<rect x="348.2" y="465.60" width="64.80" height="3.85" fill="#d2c040"/>
<rect x="348.2" y="469.10" width="64.80" height="2.65" fill="#eed020"/>
<rect x="348.2" y="471.40" width="64.80" height="9.75" fill="#f9a00c"/>
<rect x="348.2" y="473.73" width="64.80" height="1" fill="#f8b80e" opacity="0.55"/>
<rect x="348.2" y="476.77" width="64.80" height="1" fill="#f8b80e" opacity="0.55"/>
<rect x="348.2" y="480.80" width="64.80" height="7.25" fill="#eed020"/>
<rect x="348.2" y="482.87" width="64.80" height="1" fill="#b8aa6c" opacity="0.55"/>
<rect x="348.2" y="487.70" width="64.80" height="7.65" fill="#f9860c"/>
<rect x="348.2" y="489.70" width="64.80" height="1" fill="#de3014" opacity="0.55"/>
<rect x="348.2" y="495.00" width="64.80" height="1.35" fill="#e86a10"/>
<rect x="348.2" y="496.00" width="64.80" height="7.35" fill="#f9860c"/>
<rect x="348.2" y="498.52" width="64.80" height="1" fill="#f9a00c" opacity="0.55"/>
<rect x="348.2" y="501.08" width="64.80" height="1" fill="#f9a00c" opacity="0.55"/>
<rect x="348.2" y="503.00" width="64.80" height="1.35" fill="#f05f14"/>
<rect x="348.2" y="504.00" width="64.80" height="8.55" fill="#f9860c"/>
<rect x="348.2" y="505.47" width="64.80" height="1" fill="#f05f14" opacity="0.55"/>
<rect x="348.2" y="508.98" width="64.80" height="1" fill="#f05f14" opacity="0.55"/>
<rect x="348.2" y="512.20" width="64.80" height="2.65" fill="#de3014"/>
<rect x="348.2" y="514.50" width="64.80" height="6.25" fill="#f9860c"/>
<rect x="348.2" y="516.80" width="64.80" height="1" fill="#f05f14" opacity="0.55"/>
<rect x="348.2" y="520.40" width="64.80" height="2.05" fill="#f9a00c"/>
<rect x="348.2" y="522.10" width="64.80" height="2.05" fill="#b8aa6c"/>
<rect x="348.2" y="523.80" width="64.80" height="3.35" fill="#eed020"/>
<rect x="348.2" y="526.80" width="64.80" height="3.25" fill="#eed020"/>
<rect x="348.2" y="529.70" width="64.80" height="2.65" fill="#2c2c50"/>
<rect x="348.2" y="532.00" width="64.80" height="17.25" fill="#263e8c"/>
<rect x="348.2" y="533.50" width="64.80" height="1" fill="#303284" opacity="0.55"/>
<rect x="348.2" y="537.38" width="64.80" height="1" fill="#2e4096" opacity="0.55"/>
<rect x="348.2" y="540.92" width="64.80" height="1" fill="#2e4096" opacity="0.55"/>
<rect x="348.2" y="544.84" width="64.80" height="1" fill="#5058a2" opacity="0.55"/>
<rect x="348.2" y="548.90" width="64.80" height="2.65" fill="#8686b0"/>
<rect x="348.2" y="551.20" width="64.80" height="2.15" fill="#303284"/>
<rect x="348.2" y="553.00" width="64.80" height="2.05" fill="#b4b4c4"/>
<rect x="348.2" y="554.70" width="64.80" height="3.85" fill="#303284"/>
<rect x="348.2" y="558.20" width="64.80" height="4.45" fill="#8686b0"/>
<rect x="348.2" y="560.82" width="64.80" height="1" fill="#5058a2" opacity="0.55"/>
<rect x="348.2" y="562.30" width="64.80" height="8.45" fill="#263e8c"/>
<rect x="348.2" y="564.64" width="64.80" height="1" fill="#5058a2" opacity="0.55"/>
<rect x="348.2" y="568.10" width="64.80" height="1" fill="#5058a2" opacity="0.55"/>
<rect x="348.2" y="570.40" width="64.80" height="2.15" fill="#8686b0"/>
<rect x="348.2" y="572.20" width="64.80" height="2.65" fill="#303284"/>
<rect x="348.2" y="574.50" width="64.80" height="3.25" fill="#8686b0"/>
<rect x="348.2" y="577.40" width="64.80" height="4.95" fill="#2e4096"/>
<rect x="348.2" y="580.34" width="64.80" height="1" fill="#263e8c" opacity="0.55"/>
<rect x="348.2" y="582.00" width="64.80" height="5.35" fill="#b8aa6c"/>
<rect x="348.2" y="584.19" width="64.80" height="1" fill="#d2c040" opacity="0.55"/>
<rect x="348.2" y="587.00" width="64.80" height="2.35" fill="#d2c040"/>
<rect x="348.2" y="589.00" width="64.80" height="3.95" fill="#b8aa6c"/>
<rect x="348.2" y="590.84" width="64.80" height="1" fill="#a8a088" opacity="0.55"/>
<rect x="348.2" y="592.60" width="64.80" height="3.25" fill="#a08a70"/>
<rect x="348.2" y="595.50" width="64.80" height="2.05" fill="#2a2a3a"/>
<rect x="348.2" y="597.20" width="64.80" height="2.15" fill="#dcc860"/>
<rect x="348.2" y="599.00" width="64.80" height="2.05" fill="#605c58"/>
<rect x="348.2" y="600.70" width="64.80" height="5.05" fill="#8686b0"/>
<rect x="348.2" y="602.32" width="64.80" height="1" fill="#9490a0" opacity="0.55"/>
<rect x="348.2" y="605.40" width="64.80" height="1.45" fill="#2a2a3a"/>
<rect x="348.2" y="606.50" width="64.80" height="5.05" fill="#eed020"/>
<rect x="348.2" y="608.04" width="64.80" height="1" fill="#b8aa6c" opacity="0.55"/>
<rect x="348.2" y="611.20" width="64.80" height="6.15" fill="#f2d816"/>
<rect x="348.2" y="613.70" width="64.80" height="1" fill="#eed020" opacity="0.55"/>
<rect x="348.2" y="617.00" width="64.80" height="3.85" fill="#dcc860"/>
<rect x="348.2" y="618.49" width="64.80" height="1" fill="#b8aa6c" opacity="0.55"/>
<rect x="348.2" y="620.50" width="64.80" height="3.85" fill="#8686b0"/>
<rect x="348.2" y="622.32" width="64.80" height="1" fill="#9490a0" opacity="0.55"/>
<rect x="348.2" y="624.00" width="64.80" height="2.05" fill="#8686b0"/>
<rect x="348.2" y="625.70" width="64.80" height="5.65" fill="#eed020"/>
<rect x="348.2" y="627.33" width="64.80" height="1" fill="#b8aa6c" opacity="0.55"/>
<rect x="348.2" y="631.00" width="64.80" height="3.85" fill="#b8aa6c"/>
<rect x="348.2" y="634.50" width="64.80" height="1.45" fill="#8a8a50"/>
<rect x="348.2" y="635.60" width="64.80" height="5.05" fill="#d2c040"/>
<rect x="348.2" y="638.49" width="64.80" height="1" fill="#b8aa6c" opacity="0.55"/>
<rect x="348.2" y="640.30" width="64.80" height="2.65" fill="#8a8a50"/>
<rect x="348.2" y="642.60" width="64.80" height="14.35" fill="#eed020"/>
<rect x="348.2" y="644.05" width="64.80" height="1" fill="#f8b80e" opacity="0.55"/>
<rect x="348.2" y="647.74" width="64.80" height="1" fill="#d2c040" opacity="0.55"/>
<rect x="348.2" y="650.36" width="64.80" height="1" fill="#d2c040" opacity="0.55"/>
<rect x="348.2" y="655.20" width="64.80" height="1" fill="#f8b80e" opacity="0.55"/>
<rect x="348.2" y="656.60" width="64.80" height="2.75" fill="#d2c040"/>
<rect x="348.2" y="659.00" width="64.80" height="6.15" fill="#f2d816"/>
<rect x="348.2" y="660.29" width="64.80" height="1" fill="#eed020" opacity="0.55"/>
<rect x="348.2" y="664.80" width="64.80" height="1.55" fill="#b8aa6c"/>
<rect x="348.2" y="666.00" width="64.80" height="9.55" fill="#eed020"/>
<rect x="348.2" y="667.23" width="64.80" height="1" fill="#f8b80e" opacity="0.55"/>
<rect x="348.2" y="670.77" width="64.80" height="1" fill="#d2c040" opacity="0.55"/>
<rect x="348.2" y="673.78" width="64.80" height="1" fill="#d2c040" opacity="0.55"/>
<rect x="348.2" y="675.20" width="64.80" height="2.75" fill="#8a8a50"/>
<rect x="348.2" y="677.60" width="64.80" height="3.75" fill="#a8a088"/>
<rect x="348.2" y="681.00" width="64.80" height="2.75" fill="#a08a70"/>
<rect x="348.2" y="683.40" width="64.80" height="6.15" fill="#a8a088"/>
<rect x="348.2" y="684.71" width="64.80" height="1" fill="#b8aa6c" opacity="0.55"/>
<rect x="348.2" y="689.20" width="64.80" height="2.65" fill="#8a8a50"/>
<rect x="348.2" y="691.50" width="64.80" height="2.75" fill="#dcc860"/>
<rect x="348.2" y="693.90" width="64.80" height="1.45" fill="#605c58"/>
<rect x="348.2" y="695.00" width="64.80" height="8.55" fill="#eed020"/>
<rect x="348.2" y="697.34" width="64.80" height="1" fill="#b8aa6c" opacity="0.55"/>
<rect x="348.2" y="701.34" width="64.80" height="1" fill="#f8b80e" opacity="0.55"/>
<rect x="348.2" y="703.20" width="64.80" height="3.65" fill="#f8b80e"/>
<rect x="348.2" y="706.50" width="64.80" height="4.65" fill="#f9a00c"/>
<rect x="348.2" y="708.34" width="64.80" height="1" fill="#e86a10" opacity="0.55"/>
<rect x="348.2" y="710.80" width="64.80" height="1.85" fill="#b8aa6c"/>
<rect x="348.2" y="712.30" width="64.80" height="1.75" fill="#a08a70"/>
<defs><linearGradient id="cb" x1="0" y1="0" x2="0" y2="1">
<stop offset="0" stop-color="#d80c36"/>
<stop offset="0.05" stop-color="#da1230"/>
<stop offset="0.10" stop-color="#e02426"/>
<stop offset="0.15" stop-color="#e83a20"/>
<stop offset="0.20" stop-color="#f0521c"/>
<stop offset="0.26" stop-color="#f56c18"/>
<stop offset="0.32" stop-color="#f88a14"/>
<stop offset="0.38" stop-color="#f8a412"/>
<stop offset="0.43" stop-color="#f8bc10"/>
<stop offset="0.47" stop-color="#f8d418"/>
<stop offset="0.50" stop-color="#f8e020"/>
<stop offset="0.55" stop-color="#f4dc20"/>
<stop offset="0.59" stop-color="#e0c830"/>
<stop offset="0.64" stop-color="#c0b050"/>
<stop offset="0.70" stop-color="#9a9070"/>
<stop offset="0.74" stop-color="#807c8c"/>
<stop offset="0.78" stop-color="#6a6898"/>
<stop offset="0.82" stop-color="#4a4a98"/>
<stop offset="0.88" stop-color="#2e3a8c"/>
<stop offset="1" stop-color="#283e90"/>
</linearGradient></defs>
<rect x="478.2" y="351.2" width="20.3" height="371.8" fill="url(#cb)"/>
<text class="t" transform="translate(505.6,370.5) scale(0.97,1.08)" font-size="23.5">3</text>
<text class="t" transform="translate(505.6,544.7) scale(0.97,1.05)" font-size="23.5">1</text>
<text class="t" transform="translate(505.7,722.1) scale(0.97,1.05)" font-size="23.5">0</text>
<rect x="423" y="491.8" width="2" height="33.4" fill="#111"/>
<rect x="422.5" y="660" width="2" height="47.7" fill="#111"/>
<text class="t" transform="translate(450.4,551.2) rotate(-90)" font-size="20" textLength="104.5" lengthAdjust="spacingAndGlyphs">MC-specific</text>
<text class="t" transform="translate(450.3,739.4) rotate(-90)" font-size="20" textLength="160" lengthAdjust="spacingAndGlyphs">PBMNC-specific</text>
<text class="t" x="140.2" y="741.6" font-size="22.5">Cont</text>
<text class="t" x="216.5" y="741.6" font-size="22.5">LPS</text>
<text class="t" x="287.2" y="741.6" font-size="22.5">Cont</text>
<text class="t" x="361.2" y="741.6" font-size="22.5">LPS</text>
<rect x="139.5" y="761.4" width="109.2" height="1.3" fill="#222"/>
<rect x="288" y="761.8" width="102.4" height="1.3" fill="#222"/>
<text class="t" x="150" y="788.1" font-size="22.5">PBMNCs</text>
<text class="t" x="317.8" y="788.1" font-size="22.5">MCs</text>
</svg>
</body></html>
